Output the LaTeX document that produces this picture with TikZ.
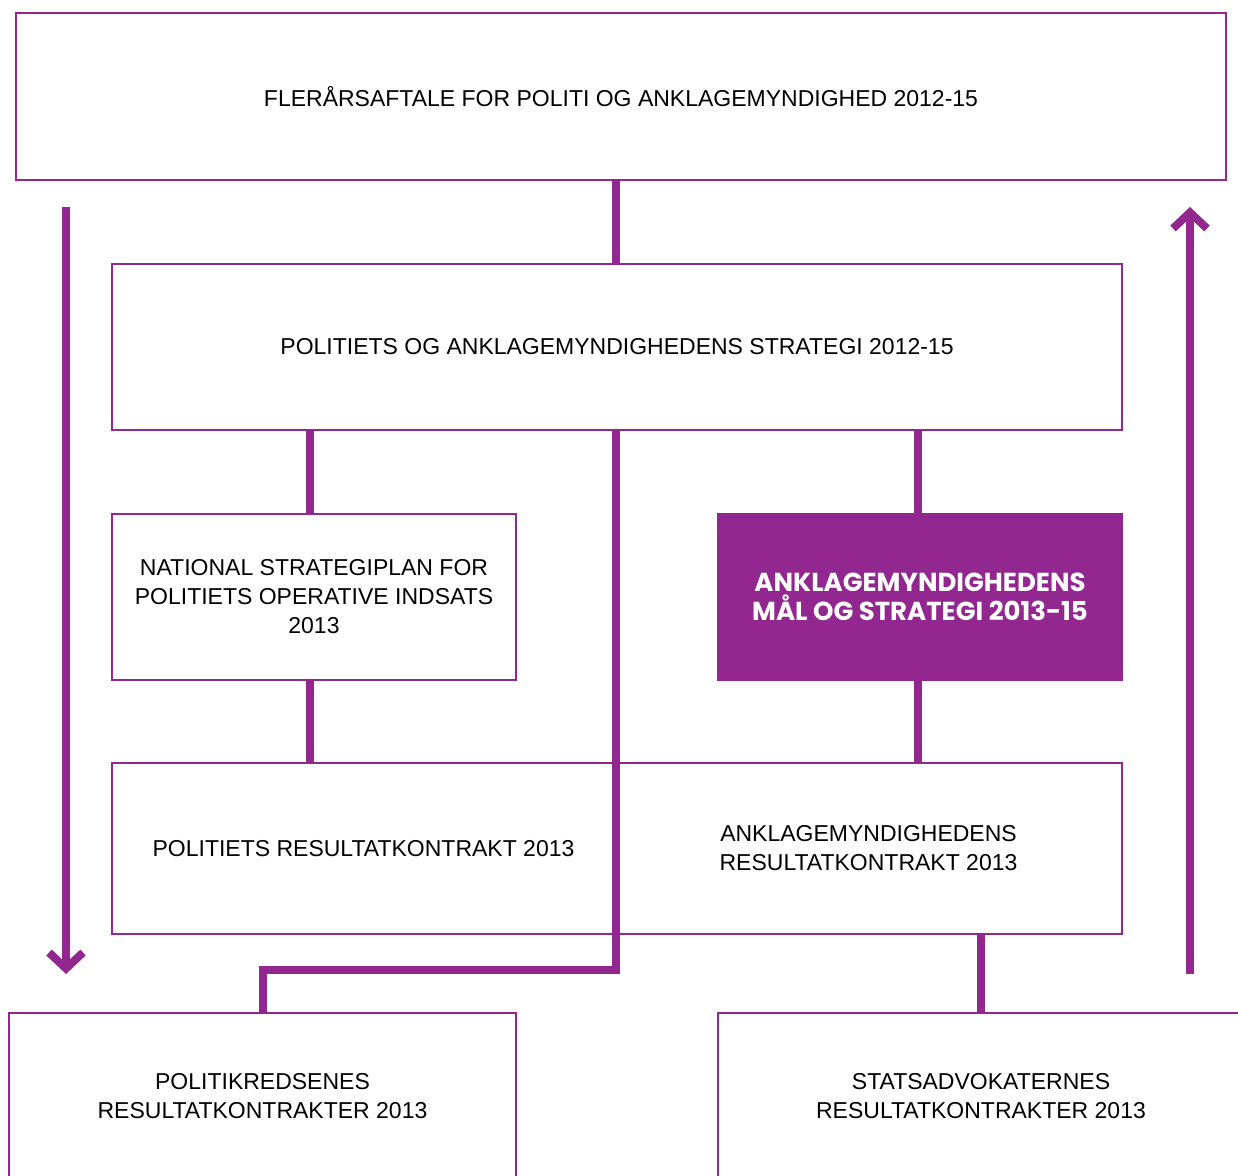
\documentclass[tikz,border=0pt]{standalone}
\usepackage{fontspec}
\setmainfont{Liberation Sans}
\newfontfamily\heavyfont{Poppins}
\usepackage{xcolor}
\usetikzlibrary{arrows.meta,positioning}
\definecolor{plum}{RGB}{146,39,143}
\tikzset{
box/.style={draw=plum,line width=1pt,inner sep=0pt,align=center,
font=\fontsize{11.5}{14.5}\selectfont},
goalbox/.style={box,fill=plum,text=white,
font=\heavyfont\bfseries\fontsize{13}{14.5}\selectfont},
conn/.style={draw=plum,line width=4pt},
flow/.style={draw=plum,line width=4pt,-{Straight Barb[length=8pt,width=17pt]}}
}

\begin{document}
\begin{tikzpicture}[x=0.5pt,y=-0.5pt]
\useasboundingbox (0,0) rectangle (1238,1176);
\clip (0,0) rectangle (1238,1176);
\node[box,minimum width=605pt,minimum height=83.5pt] (aftale) at (621,96.5)
{FLERÅRSAFTALE FOR POLITI OG ANKLAGEMYNDIGHED 2012-15};
\node[box,minimum width=505pt,minimum height=83pt] (strategi) at (617,347)
{POLITIETS OG ANKLAGEMYNDIGHEDENS STRATEGI 2012-15};
\node[box,minimum width=202pt,minimum height=83pt] (plan) at (314,597)
{NATIONAL STRATEGIPLAN FOR\\POLITIETS OPERATIVE INDSATS\\2013};
\node[goalbox,minimum width=202pt,minimum height=83pt] (maal) at (920,597)
{ANKLAGEMYNDIGHEDENS\\MÅL OG STRATEGI 2013-15};
\node[box,minimum width=251.5pt,minimum height=85.5pt] (polres) at (363.5,848.5)
{POLITIETS RESULTATKONTRAKT 2013};
\node[box,minimum width=253.5pt,minimum height=85.5pt] (ankres) at (868.5,848.5)
{ANKLAGEMYNDIGHEDENS\\RESULTATKONTRAKT 2013};
\node[box,minimum width=253.5pt,minimum height=83pt] (kredse) at (262.5,1096)
{POLITIKREDSENES\\RESULTATKONTRAKTER 2013};
\node[box,minimum width=263pt,minimum height=83pt] (statsadv) at (981,1096)
{STATSADVOKATERNES\\RESULTATKONTRAKTER 2013};

\coordinate (knee) at (615.5,970);
\coordinate (venstre) at (310,0);
\coordinate (hoejre) at (918,0);
\path[conn]
(knee |- aftale.south) edge (knee |- strategi.north)
(venstre |- plan.north) edge (venstre |- strategi.south)
(hoejre |- maal.north) edge (hoejre |- strategi.south)
(venstre |- plan.south) edge (venstre |- polres.north)
(hoejre |- maal.south) edge (hoejre |- ankres.north)
(statsadv.north) edge (statsadv.north |- ankres.south);
\draw[conn] (knee |- strategi.south) -- (knee) -| (kredse.north);

% arrows at the sides
\coordinate (ned1) at (66,207);
\coordinate (ned2) at (66,974);
\coordinate (op1) at (1190,974);
\coordinate (op2) at (1190,207);
\draw[flow] (ned1) -- (ned2);
\draw[flow] (op1) -- (op2);
\end{tikzpicture}
\end{document}
